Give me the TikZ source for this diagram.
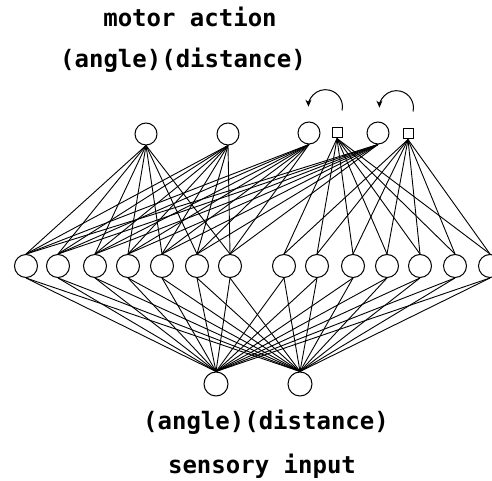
\documentclass[tikz,border=0pt]{standalone}
\usepackage{fontspec}
\setmonofont{DejaVu Sans Mono}
\usetikzlibrary{arrows.meta}
\begin{document}
\begin{tikzpicture}[x=1pt,y=1pt,line width=1pt,
  unit/.style={draw,circle,minimum size=22pt,inner sep=0pt},
  memunit/.style={draw,rectangle,minimum size=10pt,inner sep=0pt},
  link/.style={line width=.9pt},
  copyarrow/.style={-{Stealth[length=7pt,width=6pt]}},
  layertext/.style={font=\ttfamily\bfseries\fontsize{24}{28}\selectfont,anchor=base,inner sep=0pt}]
\useasboundingbox (0,0) rectangle (492,481);

% output layer
\node[unit] (t1) at (146,347) {};
\node[unit] (t2) at (228,347) {};
\node[unit] (t3) at (309,348) {};
\node[unit] (t4) at (378,348) {};
\node[memunit] (s1) at (337,348) {};
\node[memunit] (s2) at (408,347) {};

% hidden layer
\foreach \x [count=\i] in {26,58,95,128,162,197,230,284,317,353,387,420,455,490}
  \node[unit,minimum size=23pt] (m\i) at (\x,215) {};

% input layer
\node[unit,minimum size=24pt] (b1) at (216,97) {};
\node[unit,minimum size=24pt] (b2) at (300,97) {};

% left
\foreach \t in {t1,t2,t3,t4}
  \foreach \i in {1,...,7}
    \draw[link] (\t.south) -- (m\i.north);
% right
\foreach \s in {s1,s2}
  \foreach \i in {8,...,14}
    \draw[link] (\s.south) -- (m\i.north);
% input to hidden
\foreach \b in {b1,b2}
  \foreach \i in {1,...,14}
    \draw[link] (\b.north) -- (m\i.south);

% copy back
\draw[copyarrow] (s1.north) ++(5,17) arc[start angle=-13,end angle=180,radius=17];
\draw[copyarrow] (s2.north) ++(5,17) arc[start angle=-13,end angle=180,radius=17];

\node[layertext] (outtitle) at (190,454) {motor action};
\node[layertext] (outnames) at (183,413) {(angle)(distance)};
\node[layertext] (innames) at (266,51) {(angle)(distance)};
\node[layertext] (intitle) at (262,7) {sensory input};
\end{tikzpicture}
\end{document}
